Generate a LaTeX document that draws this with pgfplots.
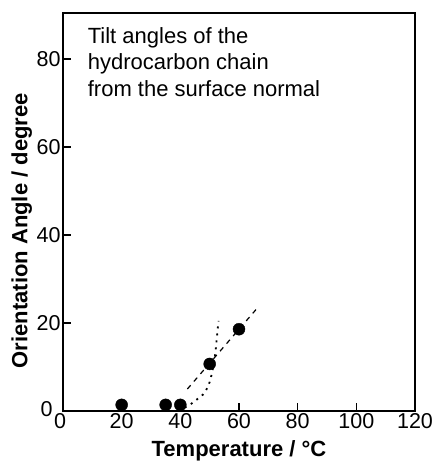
\documentclass[border=0pt]{standalone}
\usepackage{pgfplots}
\pgfplotsset{compat=1.18}
\usepackage{fontspec}
\setmainfont{Liberation Sans}
\begin{document}
\begin{tikzpicture}
\useasboundingbox (-63pt,-50pt) rectangle (377pt,411pt);
\begin{axis}[
  at={(0pt,0pt)}, anchor=south west,
  scale only axis,
  width=352pt, height=398pt,
  xmin=0, xmax=120, ymin=0, ymax=90.5,
  xtick={0,20,...,120}, ytick={0,20,...,80},
  yticklabels={\raisebox{4pt}{\makebox[0pt][r]{0\hspace{8pt}}},20,40,60,80},
  xticklabels={\hspace{-6pt}0,20,40,60,80,100,120},
  tick align=inside,
  xtick pos=bottom, ytick pos=left,
  major tick length=8pt,
  axis line style={line width=1.8pt},
  every tick/.style={line width=1.4pt, black},
  /pgf/number format/assume math mode=true,
  tick label style={font=\fontsize{21.5}{24}\selectfont},
  xticklabel style={yshift=1pt},
  yticklabel style={xshift=1pt},
  xlabel={\textbf{Temperature / °C}},
  ylabel={\textbf{Orientation Angle / degree}},
  label style={font=\fontsize{22}{26}\selectfont},
  xlabel style={at={(axis description cs:0.5,0)}, anchor=base, yshift=-45pt},
  ylabel style={at={(axis description cs:-0.117,0.453)}, anchor=center},
  clip=false,
]
\addplot[only marks, mark=*, mark size=6pt, black] coordinates {
  (20,1.4) (35,1.4) (40,1.4) (50,10.7) (60,18.6)
};
\addplot[black, line width=1.2pt, dash pattern=on 5pt off 5pt] coordinates {
  (42.4,5.0) (66.1,23.3)
};
\addplot[black, line width=1.8pt, dash pattern=on 2pt off 5pt, smooth] coordinates {
  (41.5,0.8) (43.2,1.4) (45.6,2.6) (48.2,4.1) (50.0,6.6) (51.2,10) (51.9,13) (52.4,16.3) (53.0,20.5)
};
\node[anchor=north west, align=left, inner sep=0pt, font=\fontsize{22}{26.5}\selectfont]
  at (axis cs:8.4,87.3) {Tilt angles of the\\hydrocarbon chain\\from the surface normal};
\end{axis}
\end{tikzpicture}
\end{document}
